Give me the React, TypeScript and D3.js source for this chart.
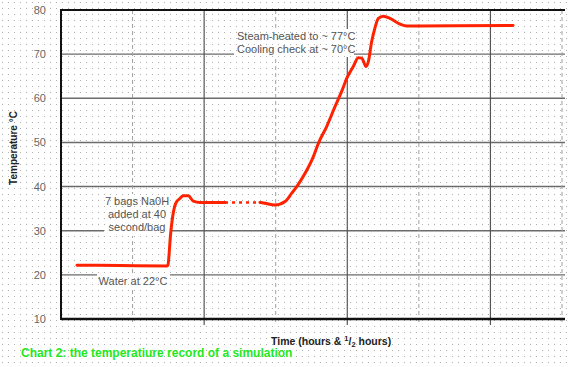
import React from "react";
import * as d3 from "d3";

// time in hours, temperature in °C
const heatingRun: [number, number][] = [
  [0.112, 22.2], [0.412, 22.1], [0.741, 22.0], [0.747, 22.2], [0.765, 29.0],
  [0.782, 33.6], [0.803, 36.3], [0.831, 37.3], [0.854, 37.9], [0.889, 37.9],
  [0.924, 36.7], [0.971, 36.4], [1.146, 36.4],
];
const unrecorded: [number, number][] = [[1.146, 36.4], [1.39, 36.4]];
const steamRun: [number, number][] = [
  [1.39, 36.4], [1.425, 36.2], [1.495, 35.8], [1.565, 36.6], [1.612, 38.5],
  [1.647, 40.0], [1.705, 43.0], [1.763, 46.8], [1.798, 49.8], [1.856, 53.6],
  [1.914, 58.1], [1.965, 61.9], [1.996, 64.5], [2.042, 67.2], [2.077, 69.2],
  [2.101, 69.1], [2.131, 67.2], [2.147, 68.3], [2.17, 72.8], [2.193, 75.9],
  [2.217, 78.1], [2.252, 78.6], [2.298, 78.1], [2.356, 77.0], [2.415, 76.4],
  [2.508, 76.4], [3.158, 76.5],
];
const yTicks = [10, 20, 30, 40, 50, 60, 70, 80];
const hourTicks = [1, 2, 3];
const halfHourTicks = [0.5, 1.5, 2.5, 3.5];

const W = 570;
const H = 367;
const margin = { top: 10, right: 8, bottom: 48, left: 61 };
const font = "Arial, 'Liberation Sans', sans-serif";

export default function App() {
  const x = d3.scaleLinear().domain([0, 3.5]).range([margin.left, W - margin.right]);
  const y = d3.scaleLinear().domain([10, 80]).range([H - margin.bottom, margin.top]);
  const line = d3.line<[number, number]>()
    .x(d => x(d[0]))
    .y(d => y(d[1]))
    .curve(d3.curveMonotoneX);

  const x0 = x(0), x1 = x(3.5), yTop = y(80), yBot = y(10);

  return (
    <svg width={W} height={H} style={{ position: "absolute", left: 0, top: 0 }} fontFamily={font}>
      <defs>
        <pattern id="dots" width={6} height={6} patternUnits="userSpaceOnUse">
          <rect width={6} height={6} fill="#fff" />
          <rect x={2} y={2} width={1} height={1} fill="#b0b0b0" />
        </pattern>
      </defs>
      <rect width={W} height={H} fill="url(#dots)" />

      {/* horizontal grid */}
      {yTicks.filter(t => t > 10 && t < 80).map(t => (
        <line key={t} x1={x0} x2={x1 + 3} y1={y(t)} y2={y(t)} stroke="#6a6a6a" strokeWidth={1.4} />
      ))}
      {/* vertical grid */}
      {halfHourTicks.map(t => (
        <line key={t} x1={x(t)} x2={x(t)} y1={yTop} y2={yBot + 6} stroke="#a0a0a0" strokeWidth={1} strokeDasharray="4 3" />
      ))}
      {hourTicks.map(t => (
        <line key={t} x1={x(t)} x2={x(t)} y1={yTop} y2={yBot + 6} stroke="#555" strokeWidth={1.2} />
      ))}
      <line x1={x0} x2={x1 + 3} y1={yTop} y2={yTop} stroke="#111" strokeWidth={2} />
      <line x1={x0} x2={x1 + 3} y1={yBot} y2={yBot} stroke="#111" strokeWidth={2.5} />
      <line x1={x0} x2={x0} y1={yTop - 1} y2={yBot + 1} stroke="#111" strokeWidth={2} />

      {/* annotation backgrounds */}
      <rect x={234} y={29} width={120} height={28} fill="url(#dots)" />
      <rect x={104} y={194} width={68} height={42} fill="url(#dots)" />
      <rect x={97} y={273} width={73} height={16} fill="url(#dots)" />

      <g fill="#555" fontSize={11}>
        <text x={237} y={40}>Steam-heated to ~ 77°C</text>
        <text x={237} y={53}>Cooling check at ~ 70°C</text>
        <text x={137} y={205} textAnchor="middle">7 bags Na0H</text>
        <text x={137} y={218} textAnchor="middle">added at 40</text>
        <text x={137} y={231} textAnchor="middle">second/bag</text>
        <text x={133} y={285} textAnchor="middle">Water at 22°C</text>
      </g>

      {/* temperature record */}
      <path d={line(heatingRun) ?? ""} fill="none" stroke="#ff2200" strokeWidth={3} strokeLinejoin="round" strokeLinecap="round" />
      <path d={line(unrecorded) ?? ""} fill="none" stroke="#ff2200" strokeWidth={2.5} strokeDasharray="3 4" />
      <path d={line(steamRun) ?? ""} fill="none" stroke="#ff2200" strokeWidth={3} strokeLinejoin="round" strokeLinecap="round" />

      {/* y tick labels */}
      {yTicks.map(t => (
        <text key={t} x={46} y={y(t) + 4} fontSize={11} fill="#666" textAnchor="end">{t}</text>
      ))}
      <text transform={`translate(17,148) rotate(-90)`} textAnchor="middle" fontSize={10} fontWeight="bold" fill="#222">
        Temperature °C
      </text>
      <text x={271} y={345} fontSize={10.5} fontWeight="bold" fill="#222">
        Time (hours &amp; <tspan dy={-4} fontSize={7.5}>1</tspan><tspan dy={4}>/</tspan><tspan dy={2} fontSize={7.5}>2</tspan><tspan dy={-2}> hours)</tspan>
      </text>
      <text x={21} y={357} fontSize={12} fontWeight="bold" fill="#1ee81e">
        Chart 2: the temperatiure record of a simulation
      </text>
    </svg>
  );
}
